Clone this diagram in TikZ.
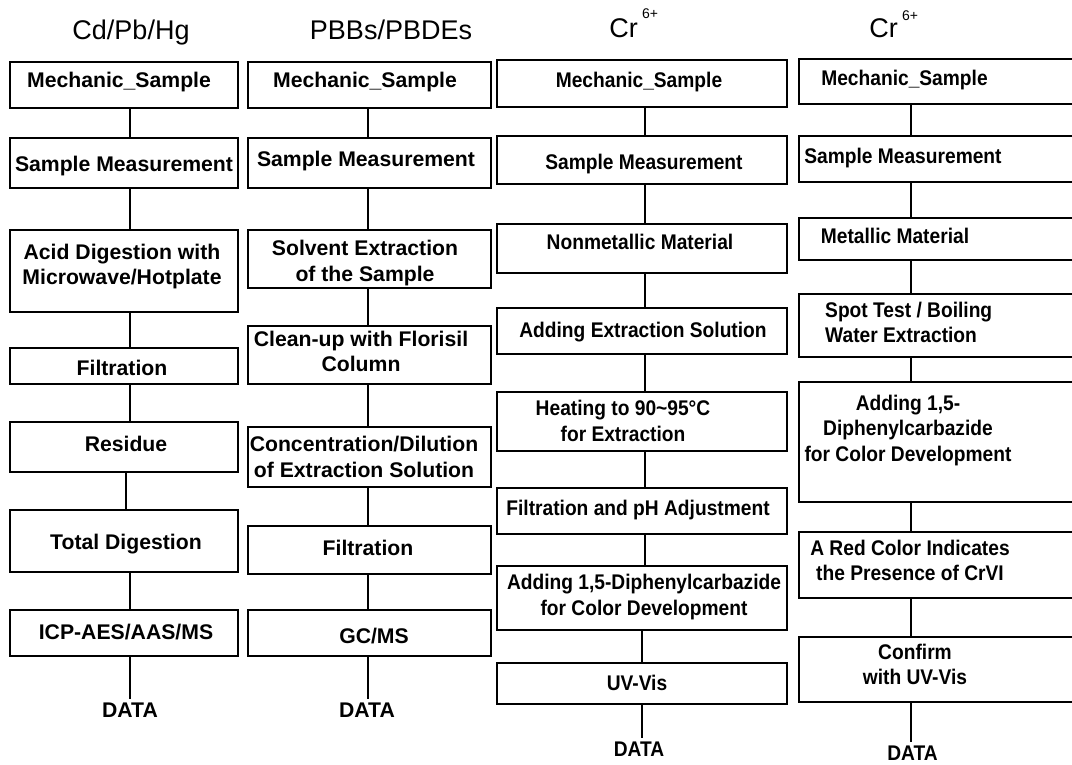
\documentclass[tikz,border=0pt]{standalone}
\usepackage{fontspec}
\setmainfont{Liberation Sans}
\newfontfamily\narrowsans[FakeStretch=0.905]{Liberation Sans}
\usetikzlibrary{fit,calc}
\def\myfam{}
\tikzset{
  boxst/.style={draw, line width=1.4pt, inner sep=0pt},
  txt/.style={font=\myfam\fontsize{21.2}{25.5}\selectfont\bfseries, align=center, inner sep=0pt},
  datast/.style={txt, anchor=base, inner ysep=4pt},
  ttl/.style={font=\fontsize{27}{31}\selectfont, inner sep=0pt, anchor=base},
  supst/.style={font=\fontsize{14}{16}\selectfont, inner sep=0pt, anchor=base},
  conn/.style={line width=1.4pt},
}
\newcommand\mkbox[9][base]{%
  \node[boxst, fit={(#3,#4) (#5,#6)}] (#2) {};
  \node[txt, anchor=#1] (#2t) at (#7,#8) {#9};
}
\begin{document}
\begin{tikzpicture}[x=1pt,y=-1pt]
\useasboundingbox (0,0) rectangle (1072,764);
\clip (0,0) rectangle (1072,764);
% titles
\node[ttl] (t1) at (131,39) {Cd/Pb/Hg};
\node[ttl] (t2) at (391,39) {PBBs/PBDEs};
\node[ttl] (t3) at (623.5,37) {Cr};
\node[supst] (t3s) at (650,18) {6+};
\node[ttl] (t4) at (883.5,37) {Cr};
\node[supst] (t4s) at (910,20) {6+};
% column connectors x
\coordinate (c1) at (130,0);
\coordinate (c1b) at (126,0);
\coordinate (c2) at (368,0);
\coordinate (c3) at (645,0);
\coordinate (c3b) at (642,0);
\coordinate (c4) at (911,0);
% column 1
\mkbox{m1a}{10}{62}{238}{108}{119}{87.5}{Mechanic\_Sample}
\mkbox{m1b}{10}{138}{238}{188}{124}{171.5}{Sample Measurement}
\mkbox[center]{m1c}{10}{230}{238}{312}{122}{266.5}{Acid Digestion with\\Microwave/Hotplate}
\mkbox{m1d}{10}{348}{238}{384}{122}{375.5}{Filtration}
\mkbox{m1e}{10}{422}{238}{472}{126}{451.5}{Residue}
\mkbox{m1f}{10}{510}{238}{572}{126}{549.5}{Total Digestion}
\mkbox{m1g}{10}{610}{238}{656}{126}{639.5}{ICP-AES/AAS/MS}
\node[datast] (d1) at (130,717.5) {DATA};
% column 2
\mkbox{m2a}{248}{62}{491}{108}{365}{87.5}{Mechanic\_Sample}
\mkbox{m2b}{248}{138}{491}{188}{366}{166.5}{Sample Measurement}
\mkbox[center]{m2c}{248}{230}{491}{288}{365}{263}{Solvent Extraction\\of the Sample}
\mkbox[center]{m2d}{248}{326}{491}{384}{361}{351.5}{Clean-up with Florisil\\Column}
\mkbox[center]{m2e}{248}{427}{491}{487}{364}{457}{Concentration/Dilution\\of Extraction Solution}
\mkbox{m2f}{248}{526}{491}{574}{368}{555.5}{Filtration}
\mkbox{m2g}{248}{610}{491}{656}{374}{643.5}{GC/MS}
\node[datast] (d2) at (367,717.5) {DATA};
% column 3
\def\myfam{\narrowsans}
\mkbox{m3a}{497}{60}{787}{107}{639}{87.5}{Mechanic\_Sample}
\mkbox{m3b}{497}{136}{787}{184}{644}{169.5}{Sample Measurement}
\mkbox{m3c}{497}{224}{787}{273}{640}{249.5}{Nonmetallic Material}
\mkbox{m3d}{497}{308}{787}{354}{643}{337.5}{Adding Extraction Solution}
\mkbox[center]{m3e}{497}{392}{787}{451}{623}{421}{Heating to 90\textasciitilde95°C\\for Extraction}
\mkbox{m3f}{497}{488}{787}{534}{638}{515.5}{Filtration and pH Adjustment}
\mkbox[center]{m3g}{497}{566}{787}{630}{644}{597}{Adding 1,5-Diphenylcarbazide\\for Color Development}
\mkbox{m3h}{497}{663}{787}{704}{637}{690.5}{UV-Vis}
\node[datast] (d3) at (639,756.5) {DATA};
% column 4
\mkbox{m4a}{799}{59}{1080}{104}{904.5}{85.5}{Mechanic\_Sample}
\mkbox{m4b}{799}{136}{1080}{182}{903}{163.5}{Sample Measurement}
\mkbox{m4c}{799}{218}{1080}{260}{895}{243.5}{Metallic Material}
\node[boxst, fit={(799,294) (1080,357)}] (m4d) {};
\node[txt, align=left, anchor=west] (m4dt) at (825,322.5) {Spot Test / Boiling\\Water Extraction};
\mkbox[center]{m4e}{799}{382}{1080}{502}{908}{430.5}{Adding 1,5-\\Diphenylcarbazide\\for Color Development}
\mkbox[center]{m4f}{799}{532}{1080}{598}{910}{560.5}{A Red Color Indicates\\the Presence of CrVI}
\mkbox[center]{m4g}{799}{637}{1080}{702}{915}{664.5}{Confirm\\with UV-Vis}
\node[datast] (d4) at (912.5,760.5) {DATA};
% connectors column 1
\draw[conn] (m1a.south -| c1) -- (m1b.north -| c1);
\draw[conn] (m1b.south -| c1) -- (m1c.north -| c1);
\draw[conn] (m1c.south -| c1) -- (m1d.north -| c1);
\draw[conn] (m1d.south -| c1) -- (m1e.north -| c1);
\draw[conn] (m1e.south -| c1b) -- (m1f.north -| c1b);
\draw[conn] (m1f.south -| c1) -- (m1g.north -| c1);
\draw[conn] (m1g.south -| c1) -- (d1.north -| c1);
% connectors column 2
\draw[conn] (m2a.south -| c2) -- (m2b.north -| c2);
\draw[conn] (m2b.south -| c2) -- (m2c.north -| c2);
\draw[conn] (m2c.south -| c2) -- (m2d.north -| c2);
\draw[conn] (m2d.south -| c2) -- (m2e.north -| c2);
\draw[conn] (m2e.south -| c2) -- (m2f.north -| c2);
\draw[conn] (m2f.south -| c2) -- (m2g.north -| c2);
\draw[conn] (m2g.south -| c2) -- (d2.north -| c2);
% connectors column 3
\draw[conn] (m3a.south -| c3) -- (m3b.north -| c3);
\draw[conn] (m3b.south -| c3) -- (m3c.north -| c3);
\draw[conn] (m3c.south -| c3) -- (m3d.north -| c3);
\draw[conn] (m3d.south -| c3) -- (m3e.north -| c3);
\draw[conn] (m3e.south -| c3) -- (m3f.north -| c3);
\draw[conn] (m3f.south -| c3) -- (m3g.north -| c3);
\draw[conn] (m3g.south -| c3b) -- (m3h.north -| c3b);
\draw[conn] (m3h.south -| c3b) -- (d3.north -| c3b);
% connectors column 4
\draw[conn] (m4a.south -| c4) -- (m4b.north -| c4);
\draw[conn] (m4b.south -| c4) -- (m4c.north -| c4);
\draw[conn] (m4c.south -| c4) -- (m4d.north -| c4);
\draw[conn] (m4d.south -| c4) -- (m4e.north -| c4);
\draw[conn] (m4e.south -| c4) -- (m4f.north -| c4);
\draw[conn] (m4f.south -| c4) -- (m4g.north -| c4);
\draw[conn] (m4g.south -| c4) -- (d4.north -| c4);
\end{tikzpicture}
\end{document}
